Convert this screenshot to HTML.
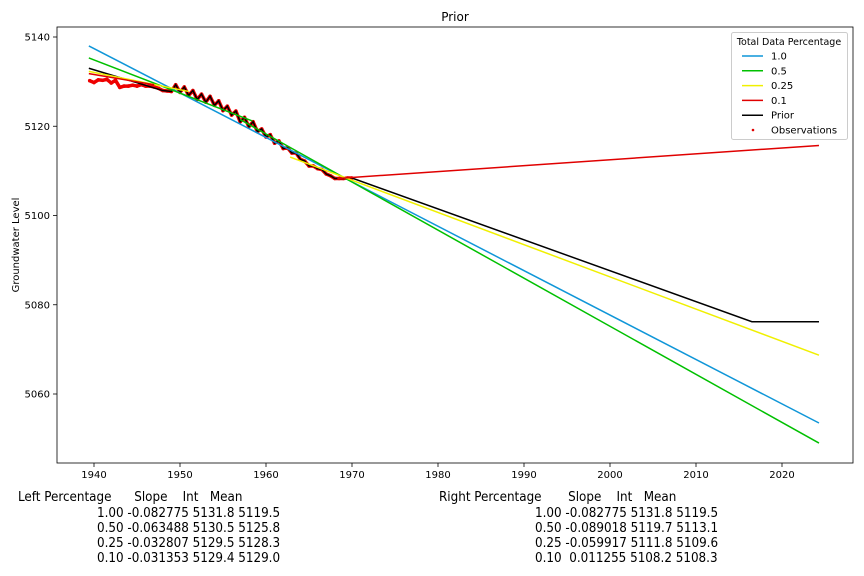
<!DOCTYPE html>
<html><head><meta charset="utf-8"><style>
body{margin:0;background:#fff;}
svg text{font-family:"DejaVu Sans","Liberation Sans",sans-serif;}
.tr{position:absolute;font-family:"DejaVu Sans Condensed","DejaVu Sans","Liberation Sans",sans-serif;font-size:13.3px;color:#000;white-space:pre;line-height:15px;}
</style></head><body>
<div style="position:relative;width:864px;height:576px;overflow:hidden">
<svg id="chart" width="864" height="490" style="position:absolute;left:0;top:0"></svg>
<div>
<div class="tr" style="left:18px;top:490px">Left Percentage      Slope    Int   Mean</div>
<div class="tr" style="left:97px;top:506px">1.00 -0.082775 5131.8 5119.5</div>
<div class="tr" style="left:97px;top:521px">0.50 -0.063488 5130.5 5125.8</div>
<div class="tr" style="left:97px;top:536px">0.25 -0.032807 5129.5 5128.3</div>
<div class="tr" style="left:97px;top:551px">0.10 -0.031353 5129.4 5129.0</div>
</div>
<div>
<div class="tr" style="left:439px;top:490px">Right Percentage       Slope    Int   Mean</div>
<div class="tr" style="left:535px;top:506px">1.00 -0.082775 5131.8 5119.5</div>
<div class="tr" style="left:535px;top:521px">0.50 -0.089018 5119.7 5113.1</div>
<div class="tr" style="left:535px;top:536px">0.25 -0.059917 5111.8 5109.6</div>
<div class="tr" style="left:535px;top:551px">0.10  0.011255 5108.2 5108.3</div>
</div>
</div>
<script>
const xTicks=[1940,1950,1960,1970,1980,1990,2000,2010,2020];
const yTicks=[5060,5080,5100,5120,5140];
const blueX=[1939.4,2024.3], blueY=[5138,5053.5];
const greenLeftX=[1939.4,1958.4], greenLeftY=[5135.3,5121.2];
const greenRightX=[1957,2024.3], greenRightY=[5121.5,5049];
const yellowLeftX=[1939.4,1951], yellowLeftY=[5132.3,5127.8];
const yellowRightX=[1962.8,2024.3], yellowRightY=[5113.1,5068.7];
const redLeftX=[1939.4,1947], redLeftY=[5131.8,5129.3];
const redRightX=[1968.3,2024.3], redRightY=[5108.3,5115.7];
const obsX=[1939.5,1940,1940.5,1941,1941.5,1942,1942.5,1943,1943.5,1944,1944.5,1945,1945.5,1946,1946.5,1947,1947.5,1948,1948.5,1949,1949.5,1950,1950.5,1951,1951.5,1952,1952.5,1953,1953.5,1954,1954.5,1955,1955.5,1956,1956.5,1957,1957.5,1958,1958.5,1959,1959.5,1960,1960.5,1961,1961.5,1962,1962.5,1963,1963.5,1964,1964.5,1965,1965.5,1966,1966.5,1967,1967.5,1968,1968.5,1969,1969.5,1970];
const obsY=[5130.2,5129.8,5130.4,5130.3,5130.5,5129.7,5130.3,5128.7,5129,5129,5129.2,5129,5129.3,5129,5129,5128.8,5128.5,5128,5127.9,5127.8,5129.3,5127.6,5128.8,5126.9,5128,5126,5127.2,5125.4,5126.7,5124.7,5125.7,5123.5,5124.5,5122.5,5123.4,5121,5122,5119.9,5121,5118.8,5119.4,5117.6,5118.1,5116.2,5116.7,5115,5115.2,5114,5114,5112.6,5112.2,5111.1,5111.1,5110.5,5110.3,5109.3,5108.9,5108.3,5108.3,5108.3,5108.4,5108.4];
const priorStartX=[1939.4,1948], priorStartY=[5133,5128];
const priorEndX=[2016.5,2024.3], priorEndY=[5076.2,5076.2];

const NS="http://www.w3.org/2000/svg";
const svg=document.getElementById('chart');
const L=57,R=853,T=27,B=463;
function xs(v){return 94+(v-1940)*8.6;}
function ys(v){return 37+(5140-v)*4.4625;}
function mk(tag,attrs,parent){const e=document.createElementNS(NS,tag);for(const k in attrs)e.setAttribute(k,attrs[k]);(parent||svg).appendChild(e);return e;}
function txt(x,y,s,size,anchor,extra){const t=mk('text',Object.assign({x:x,y:y,'font-size':size,'text-anchor':anchor||'start',fill:'#000'},extra||{}));t.textContent=s;return t;}

let t=txt(455,21,'Prior',12,'middle');


t=txt(19,245,'Groundwater Level',10,'middle',{transform:'rotate(-90 19 245)'});



xTicks.forEach(v=>{
  const l=mk('line',{x1:xs(v),x2:xs(v),y1:B,y2:B+4,stroke:'#000','stroke-width':0.8});
  
  
  const tt=txt(xs(v),478,String(v),10,'middle');
  
  
});
yTicks.forEach(v=>{
  const l=mk('line',{x1:L-4,x2:L,y1:ys(v),y2:ys(v),stroke:'#000','stroke-width':0.8});
  
  
  const tt=txt(L-7,ys(v)+3.5,String(v),10,'end');
  
  
});

function pts(X,Y){return X.map((x,i)=>xs(x).toFixed(2)+','+ys(Y[i]).toFixed(2)).join(' ');}
const og=mk('g',{});


mk('polyline',{points:pts(obsX,obsY),fill:'none',stroke:'#ee0000','stroke-width':3.5,'stroke-linejoin':'round'},og);
obsX.forEach((x,i)=>{
  const c=mk('circle',{cx:xs(x),cy:ys(obsY[i]),r:1.8,fill:'#ee0000'},og);
  
  
});
function line(X,Y,color,name,w){const p=mk('polyline',{points:pts(X,Y),fill:'none',stroke:color,'stroke-width':w||1.5});
  
  }
const pX=priorStartX.concat(obsX.filter(x=>x>1948)).concat(priorEndX);
const pY=priorStartY.concat(obsY.filter((y,i)=>obsX[i]>1948)).concat(priorEndY);
line(pX,pY,'#000','prior-line');
line(blueX,blueY,'#0f96d8','line-1-0');
line(greenLeftX,greenLeftY,'#00c000','line-0-5-left');
line(greenRightX,greenRightY,'#00c000','line-0-5-right');
line(yellowLeftX,yellowLeftY,'#f0f000','line-0-25-left');
line(yellowRightX,yellowRightY,'#f0f000','line-0-25-right');
line(redLeftX,redLeftY,'#e00000','line-0-1-left');
line(redRightX,redRightY,'#e00000','line-0-1-right');

const fr=mk('rect',{x:L,y:T,width:R-L,height:B-T,fill:'none',stroke:'#000','stroke-width':0.8});



const lg=mk('g',{});


mk('rect',{x:731.5,y:32.5,width:116,height:107,fill:'#fff',stroke:'#ccc',rx:2},lg);
const lt=mk('text',{x:789,y:45,'font-size':9.5,'text-anchor':'middle'},lg);lt.textContent='Total Data Percentage';
const entries=[['1.0','#0f96d8'],['0.5','#00c000'],['0.25','#f0f000'],['0.1','#e00000'],['Prior','#000']];
entries.forEach((e,i)=>{
  const y=56+i*14.8;
  const g=mk('g',{},lg);
  
  
  mk('line',{x1:742,x2:763,y1:y,y2:y,stroke:e[1],'stroke-width':1.5},g);
  const tt=mk('text',{x:771,y:y+3.5,'font-size':10},g);tt.textContent=e[0];
});
const og2=mk('g',{},lg);


mk('circle',{cx:753,cy:130,r:1.3,fill:'#e00000'},og2);
const ot=mk('text',{x:771,y:133.5,'font-size':10},og2);ot.textContent='Observations';
</script>
</body></html>
